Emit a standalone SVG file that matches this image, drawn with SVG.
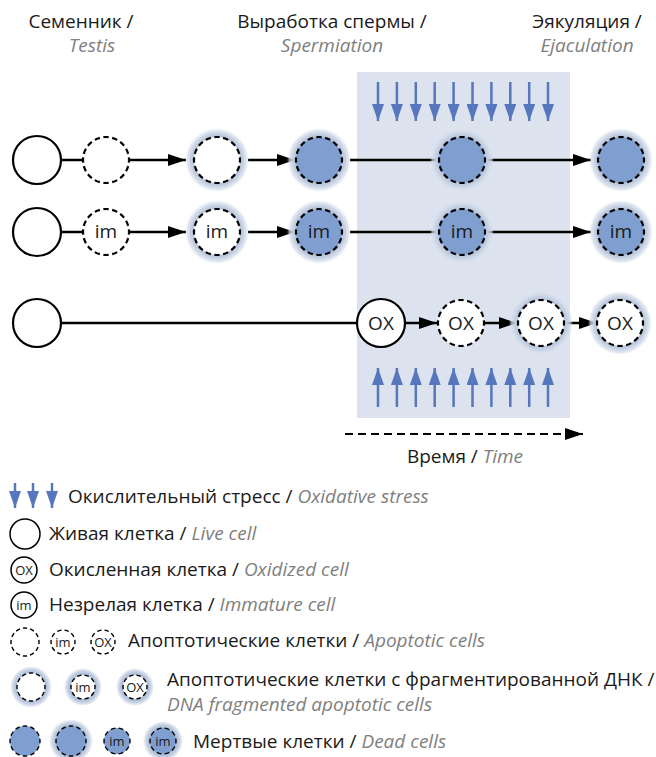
<svg xmlns="http://www.w3.org/2000/svg" width="656" height="757" viewBox="0 0 656 757">
<defs>
<style>
text{font-family:"Open Sans","Liberation Sans",sans-serif;fill:#1a1a1a}
.h{font-size:19px}
.lg{font-size:19px}
.it{font-style:italic;fill:#808080}
.cl{font-size:19px;text-anchor:middle}
.cs{font-size:13px;text-anchor:middle}
.live{fill:#fff;stroke:#000;stroke-width:2.2}
.dash{fill:#fff;stroke:#000;stroke-width:2.2;stroke-dasharray:0.6 0.4;stroke-dashoffset:0.3}
.dead{fill:#7f9fd1;stroke:#000;stroke-width:2.2;stroke-dasharray:0.6 0.4;stroke-dashoffset:0.3}
.dashs{fill:#fff;stroke:#000;stroke-width:1.4;stroke-dasharray:0.6 0.4;stroke-dashoffset:0.3}
.deads{fill:#7f9fd1;stroke:#000;stroke-width:1.4;stroke-dasharray:0.6 0.4;stroke-dashoffset:0.3}
.lives{fill:#fff;stroke:#000;stroke-width:1.5}
.con{stroke:#000;stroke-width:2.5;fill:none}
.blue{stroke:#5677bd;stroke-width:2.5;fill:none}
</style>
<radialGradient id="glow" cx="0.5" cy="0.5" r="0.5">
<stop offset="0.68" stop-color="#aebfd8" stop-opacity="1"/>
<stop offset="0.8" stop-color="#c1cde0" stop-opacity="1"/>
<stop offset="0.92" stop-color="#d3dcea" stop-opacity="0.7"/>
<stop offset="1" stop-color="#e2e8f1" stop-opacity="0"/>
</radialGradient>
<marker id="ah" viewBox="0 0 18 12" refX="18" refY="6" markerWidth="18" markerHeight="12" markerUnits="userSpaceOnUse" orient="auto">
<path d="M0,0 L18,6 L0,12 z" fill="#000"/>
</marker>
<marker id="bh" viewBox="0 0 17 12" refX="17" refY="6" markerWidth="17" markerHeight="12" markerUnits="userSpaceOnUse" orient="auto">
<path d="M0,0 L17,6 L0,12 z" fill="#5677bd"/>
</marker>
</defs>

<rect x="357" y="72" width="213" height="346" fill="#dce3ee"/>

<g id="headers">
<text class="h" x="81" y="28" text-anchor="middle">Семенник /</text>
<text class="h it" x="92" y="52" text-anchor="middle">Testis</text>
<text class="h" x="332" y="28" text-anchor="middle">Выработка спермы /</text>
<text class="h it" x="332" y="52" text-anchor="middle">Spermiation</text>
<text class="h" x="587" y="28" text-anchor="middle">Эякуляция /</text>
<text class="h it" x="587" y="52" text-anchor="middle">Ejaculation</text>
</g>

<g id="stress-arrows">
<g class="blue" marker-end="url(#bh)">
<line x1="378" y1="82" x2="378" y2="121"/>
<line x1="396.9" y1="82" x2="396.9" y2="121"/>
<line x1="415.8" y1="82" x2="415.8" y2="121"/>
<line x1="434.7" y1="82" x2="434.7" y2="121"/>
<line x1="453.6" y1="82" x2="453.6" y2="121"/>
<line x1="472.5" y1="82" x2="472.5" y2="121"/>
<line x1="491.4" y1="82" x2="491.4" y2="121"/>
<line x1="510.3" y1="82" x2="510.3" y2="121"/>
<line x1="529.2" y1="82" x2="529.2" y2="121"/>
<line x1="548" y1="82" x2="548" y2="121"/>
<line x1="378" y1="407" x2="378" y2="368"/>
<line x1="396.9" y1="407" x2="396.9" y2="368"/>
<line x1="415.8" y1="407" x2="415.8" y2="368"/>
<line x1="434.7" y1="407" x2="434.7" y2="368"/>
<line x1="453.6" y1="407" x2="453.6" y2="368"/>
<line x1="472.5" y1="407" x2="472.5" y2="368"/>
<line x1="491.4" y1="407" x2="491.4" y2="368"/>
<line x1="510.3" y1="407" x2="510.3" y2="368"/>
<line x1="529.2" y1="407" x2="529.2" y2="368"/>
<line x1="548" y1="407" x2="548" y2="368"/>
</g>
</g>

<g id="connectors">
<line class="con" x1="61" y1="160" x2="83" y2="160"/>
<line class="con" x1="130" y1="160" x2="186" y2="160" marker-end="url(#ah)"/>
<line class="con" x1="248" y1="160" x2="295" y2="160" marker-end="url(#ah)"/>
<line class="con" x1="350" y1="160" x2="438" y2="160"/>
<line class="con" x1="486" y1="160" x2="591" y2="160" marker-end="url(#ah)"/>
<line class="con" x1="61" y1="232" x2="83" y2="232"/>
<line class="con" x1="130" y1="232" x2="186" y2="232" marker-end="url(#ah)"/>
<line class="con" x1="248" y1="232" x2="295" y2="232" marker-end="url(#ah)"/>
<line class="con" x1="350" y1="232" x2="438" y2="232"/>
<line class="con" x1="486" y1="232" x2="591" y2="232" marker-end="url(#ah)"/>
<line class="con" x1="61" y1="323" x2="357" y2="323"/>
<line class="con" x1="405" y1="323" x2="437" y2="323" marker-end="url(#ah)"/>
<line class="con" x1="484" y1="323" x2="517" y2="323" marker-end="url(#ah)"/>
<line class="con" x1="564" y1="323" x2="597" y2="323" marker-end="url(#ah)"/>
<line x1="345" y1="434" x2="583" y2="434" stroke="#000" stroke-width="2.2" stroke-dasharray="8 5" marker-end="url(#ah)"/>
</g>

<g id="r1c1"><circle class="live" cx="37" cy="160" r="24"/></g>
<g id="r1c2"><circle class="dash" pathLength="16" cx="106" cy="160" r="23"/></g>
<g id="r1c3"><circle fill="url(#glow)" cx="217" cy="160" r="32"/><circle class="dash" pathLength="16" cx="217" cy="160" r="23"/></g>
<g id="r1c4"><circle fill="url(#glow)" cx="319" cy="160" r="32"/><circle class="dead" pathLength="16" cx="319" cy="160" r="23"/></g>
<g id="r1c5"><circle fill="url(#glow)" cx="462" cy="160" r="32"/><circle class="dead" pathLength="16" cx="462" cy="160" r="23"/></g>
<g id="r1c6"><circle fill="url(#glow)" cx="621" cy="160" r="32"/><circle class="dead" pathLength="16" cx="621" cy="160" r="23"/></g>

<g id="r2c1"><circle class="live" cx="37" cy="232" r="24"/></g>
<g id="r2c2"><circle class="dash" pathLength="16" cx="106" cy="232" r="23"/><text class="cl" x="106" y="238">im</text></g>
<g id="r2c3"><circle fill="url(#glow)" cx="217" cy="232" r="32"/><circle class="dash" pathLength="16" cx="217" cy="232" r="23"/><text class="cl" x="217" y="238">im</text></g>
<g id="r2c4"><circle fill="url(#glow)" cx="319" cy="232" r="32"/><circle class="dead" pathLength="16" cx="319" cy="232" r="23"/><text class="cl" x="319" y="238">im</text></g>
<g id="r2c5"><circle fill="url(#glow)" cx="462" cy="232" r="32"/><circle class="dead" pathLength="16" cx="462" cy="232" r="23"/><text class="cl" x="462" y="238">im</text></g>
<g id="r2c6"><circle fill="url(#glow)" cx="621" cy="232" r="32"/><circle class="dead" pathLength="16" cx="621" cy="232" r="23"/><text class="cl" x="621" y="238">im</text></g>

<g id="r3c1"><circle class="live" cx="37" cy="323" r="24"/></g>
<g id="r3c2"><circle class="live" cx="381" cy="323" r="24"/><text class="cl" x="381" y="330">OX</text></g>
<g id="r3c3"><circle class="dash" pathLength="16" cx="461" cy="323" r="23"/><text class="cl" x="461" y="330">OX</text></g>
<g id="r3c4"><circle fill="url(#glow)" cx="541" cy="323" r="32"/><circle class="dash" pathLength="16" cx="541" cy="323" r="23"/><text class="cl" x="541" y="330">OX</text></g>
<g id="r3c5"><circle fill="url(#glow)" cx="620" cy="323" r="32"/><circle class="dash" pathLength="16" cx="620" cy="323" r="23"/><text class="cl" x="620" y="330">OX</text></g>

<g id="time-label"><text class="lg" x="465" y="463" text-anchor="middle">Время / <tspan class="it">Time</tspan></text></g>

<g id="legend-stress">
<g class="blue" marker-end="url(#bh)">
<line x1="15" y1="483" x2="15" y2="508"/>
<line x1="33" y1="483" x2="33" y2="508"/>
<line x1="52" y1="483" x2="52" y2="508"/>
</g>
<text class="lg" x="68" y="503">Окислительный стресс / <tspan class="it">Oxidative stress</tspan></text>
</g>
<g id="legend-live">
<circle class="lives" cx="25" cy="534" r="15"/>
<text class="lg" x="49" y="540">Живая клетка / <tspan class="it">Live cell</tspan></text>
</g>
<g id="legend-ox">
<circle class="lives" cx="24" cy="570" r="13"/><text class="cs" x="24" y="575">OX</text>
<text class="lg" x="49" y="576">Окисленная клетка / <tspan class="it">Oxidized cell</tspan></text>
</g>
<g id="legend-im">
<circle class="lives" cx="24" cy="605" r="13"/><text class="cs" x="24" y="610">im</text>
<text class="lg" x="49" y="611">Незрелая клетка / <tspan class="it">Immature cell</tspan></text>
</g>
<g id="legend-apoptotic">
<circle class="dashs" pathLength="12" cx="25" cy="642" r="14"/>
<circle class="dashs" pathLength="10" cx="63" cy="642" r="12"/><text class="cs" x="63" y="647">im</text>
<circle class="dashs" pathLength="10" cx="103" cy="642" r="12"/><text class="cs" x="103" y="647">OX</text>
<text class="lg" x="128" y="647">Апоптотические клетки / <tspan class="it">Apoptotic cells</tspan></text>
</g>
<g id="legend-dna">
<circle fill="url(#glow)" cx="31" cy="687" r="21"/><circle class="dashs" pathLength="12" cx="31" cy="687" r="14"/>
<circle fill="url(#glow)" cx="83" cy="687" r="19"/><circle class="dashs" pathLength="10" cx="83" cy="687" r="12"/><text class="cs" x="83" y="692">im</text>
<circle fill="url(#glow)" cx="135" cy="687" r="19"/><circle class="dashs" pathLength="10" cx="135" cy="687" r="12"/><text class="cs" x="135" y="692">OX</text>
<text class="lg" x="167" y="686">Апоптотические клетки с фрагментированной ДНК /</text>
<text class="lg it" x="167" y="711">DNA fragmented apoptotic cells</text>
</g>
<g id="legend-dead">
<circle class="deads" pathLength="12" cx="25" cy="741" r="15"/>
<circle fill="url(#glow)" cx="71" cy="741" r="22"/><circle class="deads" pathLength="12" cx="71" cy="741" r="15"/>
<circle class="deads" pathLength="10" cx="117" cy="741" r="13"/><text class="cs" x="117" y="746">im</text>
<circle fill="url(#glow)" cx="163" cy="741" r="20"/><circle class="deads" pathLength="10" cx="163" cy="741" r="13"/><text class="cs" x="163" y="746">im</text>
<text class="lg" x="193" y="748">Мертвые клетки / <tspan class="it">Dead cells</tspan></text>
</g>
</svg>
